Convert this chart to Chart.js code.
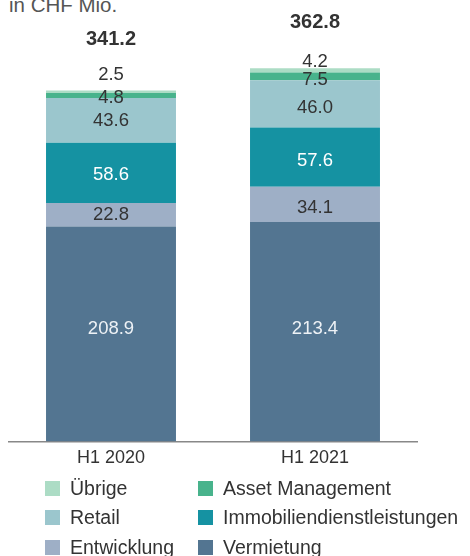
<!DOCTYPE html>
<html><head><meta charset="utf-8">
<script src="https://cdn.jsdelivr.net/npm/chart.js@4/dist/chart.umd.min.js"></script>
<style>
html,body{margin:0;padding:0;background:#fff;width:470px;height:556px;overflow:hidden;font-family:"Liberation Sans",Arial,sans-serif;}
#wrap{position:relative;width:470px;height:556px;}
#unit{position:absolute;left:9px;top:-6px;font-size:20.5px;color:#555;line-height:22px;}
#cv{position:absolute;left:0;top:0;}
#legend{position:absolute;left:45px;top:477px;display:grid;grid-template-columns:153px 270px;row-gap:7.5px;font-size:19.5px;color:#333;}
.li{display:flex;align-items:center;height:22px;white-space:nowrap;}
.sw{width:15px;height:15px;margin-right:10px;flex:none;}
</style></head>
<body><div id="wrap"><div id="unit">in CHF Mio.</div><canvas id="cv" width="470" height="479"></canvas><div id="legend"></div></div>
<script>
const categories = ["H1 2020", "H1 2021"];
const vermietung = [208.9, 213.4];
const entwicklung = [22.8, 34.1];
const immobiliendienstleistungen = [58.6, 57.6];
const retail = [43.6, 46.0];
const assetManagement = [4.8, 7.5];
const uebrige = [2.5, 4.2];
const totals = [341.2, 362.8];
const seriesNames = ["Vermietung","Entwicklung","Immobiliendienstleistungen","Retail","Asset Management","Übrige"];
const seriesColors = ["#537591","#9eafc6","#1592a2","#9bc6cd","#48b38c","#acdcc5"];
const labelColors = ["#eef2f6","#333","#fff","#333","#333","#333"];
const seriesData = [vermietung, entwicklung, immobiliendienstleistungen, retail, assetManagement, uebrige];

// label vertical offsets (px) per dataset per bar
const labelOffsets = [[-5,-3],[0,4],[2,4],[1,4],[2,3],[-17,-9]];
const totalOffsets = [-51,-46];

const labelPlugin = {
  id:'segLabels',
  afterDatasetsDraw(chart){
    const ctx = chart.ctx;
    ctx.save();
    ctx.textAlign='center';ctx.textBaseline='middle';
    chart.data.datasets.forEach((ds,i)=>{
      const meta = chart.getDatasetMeta(i);
      meta.data.forEach((bar,j)=>{
        const y = (bar.y + bar.base)/2 + labelOffsets[i][j];
        ctx.fillStyle = labelColors[i];
        ctx.font = '18.5px "Liberation Sans", Arial, sans-serif';
        ctx.fillText(ds.data[j].toFixed(1), bar.x, y);
      });
    });
    const topMeta = chart.getDatasetMeta(chart.data.datasets.length-1);
    topMeta.data.forEach((bar,j)=>{
      ctx.fillStyle='#333';
      ctx.font='bold 20px "Liberation Sans", Arial, sans-serif';
      ctx.fillText(totals[j].toFixed(1), bar.x, bar.y + totalOffsets[j]);
    });
    ctx.restore();
  }
};

new Chart(document.getElementById('cv'),{
  type:'bar',
  data:{labels:categories,datasets:seriesData.map((d,i)=>({label:seriesNames[i],data:d,backgroundColor:seriesColors[i],borderWidth:0}))},
  options:{
    responsive:false,animation:false,
    layout:{padding:{left:9,right:53,top:30,bottom:4}},
    plugins:{legend:{display:false},tooltip:{enabled:false}},
    datasets:{bar:{barPercentage:0.637,categoryPercentage:1}},
    scales:{
      x:{stacked:true,grid:{display:false,drawTicks:false},border:{color:'#888',width:1.5},
         ticks:{color:'#333',font:{size:18,family:'"Liberation Sans", Arial, sans-serif'},padding:6}},
      y:{stacked:true,display:false,min:0,max:400}
    }
  },
  plugins:[labelPlugin]
});

const order=[5,4,3,2,1,0];
const lg=document.getElementById('legend');
order.forEach(i=>{
  const d=document.createElement('div');d.className='li';
  d.innerHTML='<span class="sw" style="background:'+seriesColors[i]+'"></span><span>'+seriesNames[i]+'</span>';
  lg.appendChild(d);
});
</script></body></html>
